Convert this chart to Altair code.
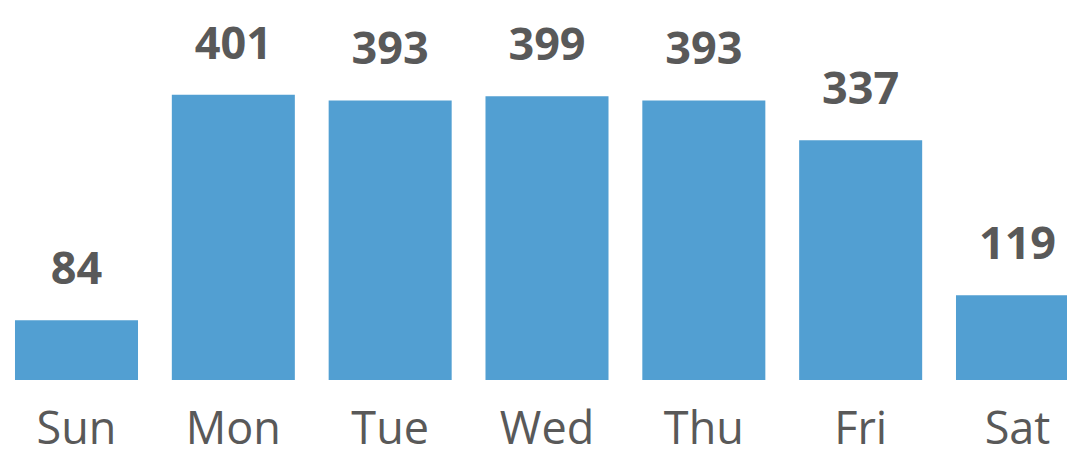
import altair as alt
import pandas as pd

days = ["Sun", "Mon", "Tue", "Wed", "Thu", "Fri", "Sat"]
counts = [84, 401, 393, 399, 393, 337, 119]

df = pd.DataFrame({"day": days, "count": counts})

x_enc = alt.X(
    "day:N",
    sort=days,
    scale=alt.Scale(range=[0, 1078], paddingInner=0.2156, paddingOuter=0.0446),
    axis=alt.Axis(
        title=None, domain=False, ticks=False, grid=False, labelAngle=0,
        labelFont="Open Sans", labelFontSize=45, labelColor="#595959",
        labelBaseline="alphabetic", labelPadding=63,
    ),
)
y_enc = alt.Y("count:Q", scale=alt.Scale(domain=[0, 523], nice=False), axis=None)

bars = alt.Chart(df).mark_bar(color="#529FD2", clip=True).encode(x=x_enc, y=y_enc)
labels = alt.Chart(df).mark_text(
    font="Open Sans", fontSize=45, fontWeight="bold", color="#595959",
    baseline="alphabetic", dy=-36,
).encode(x=x_enc, y=y_enc, text="count:Q")

chart = (bars + labels).properties(
    width=1059, height=372,
    autosize=alt.AutoSizeParams(type="none"),
    padding={"left": 0, "right": 0, "top": 0, "bottom": 70},
).configure_view(stroke=None)

chart.save("out.html", embed_options={"renderer": "svg", "actions": False})
